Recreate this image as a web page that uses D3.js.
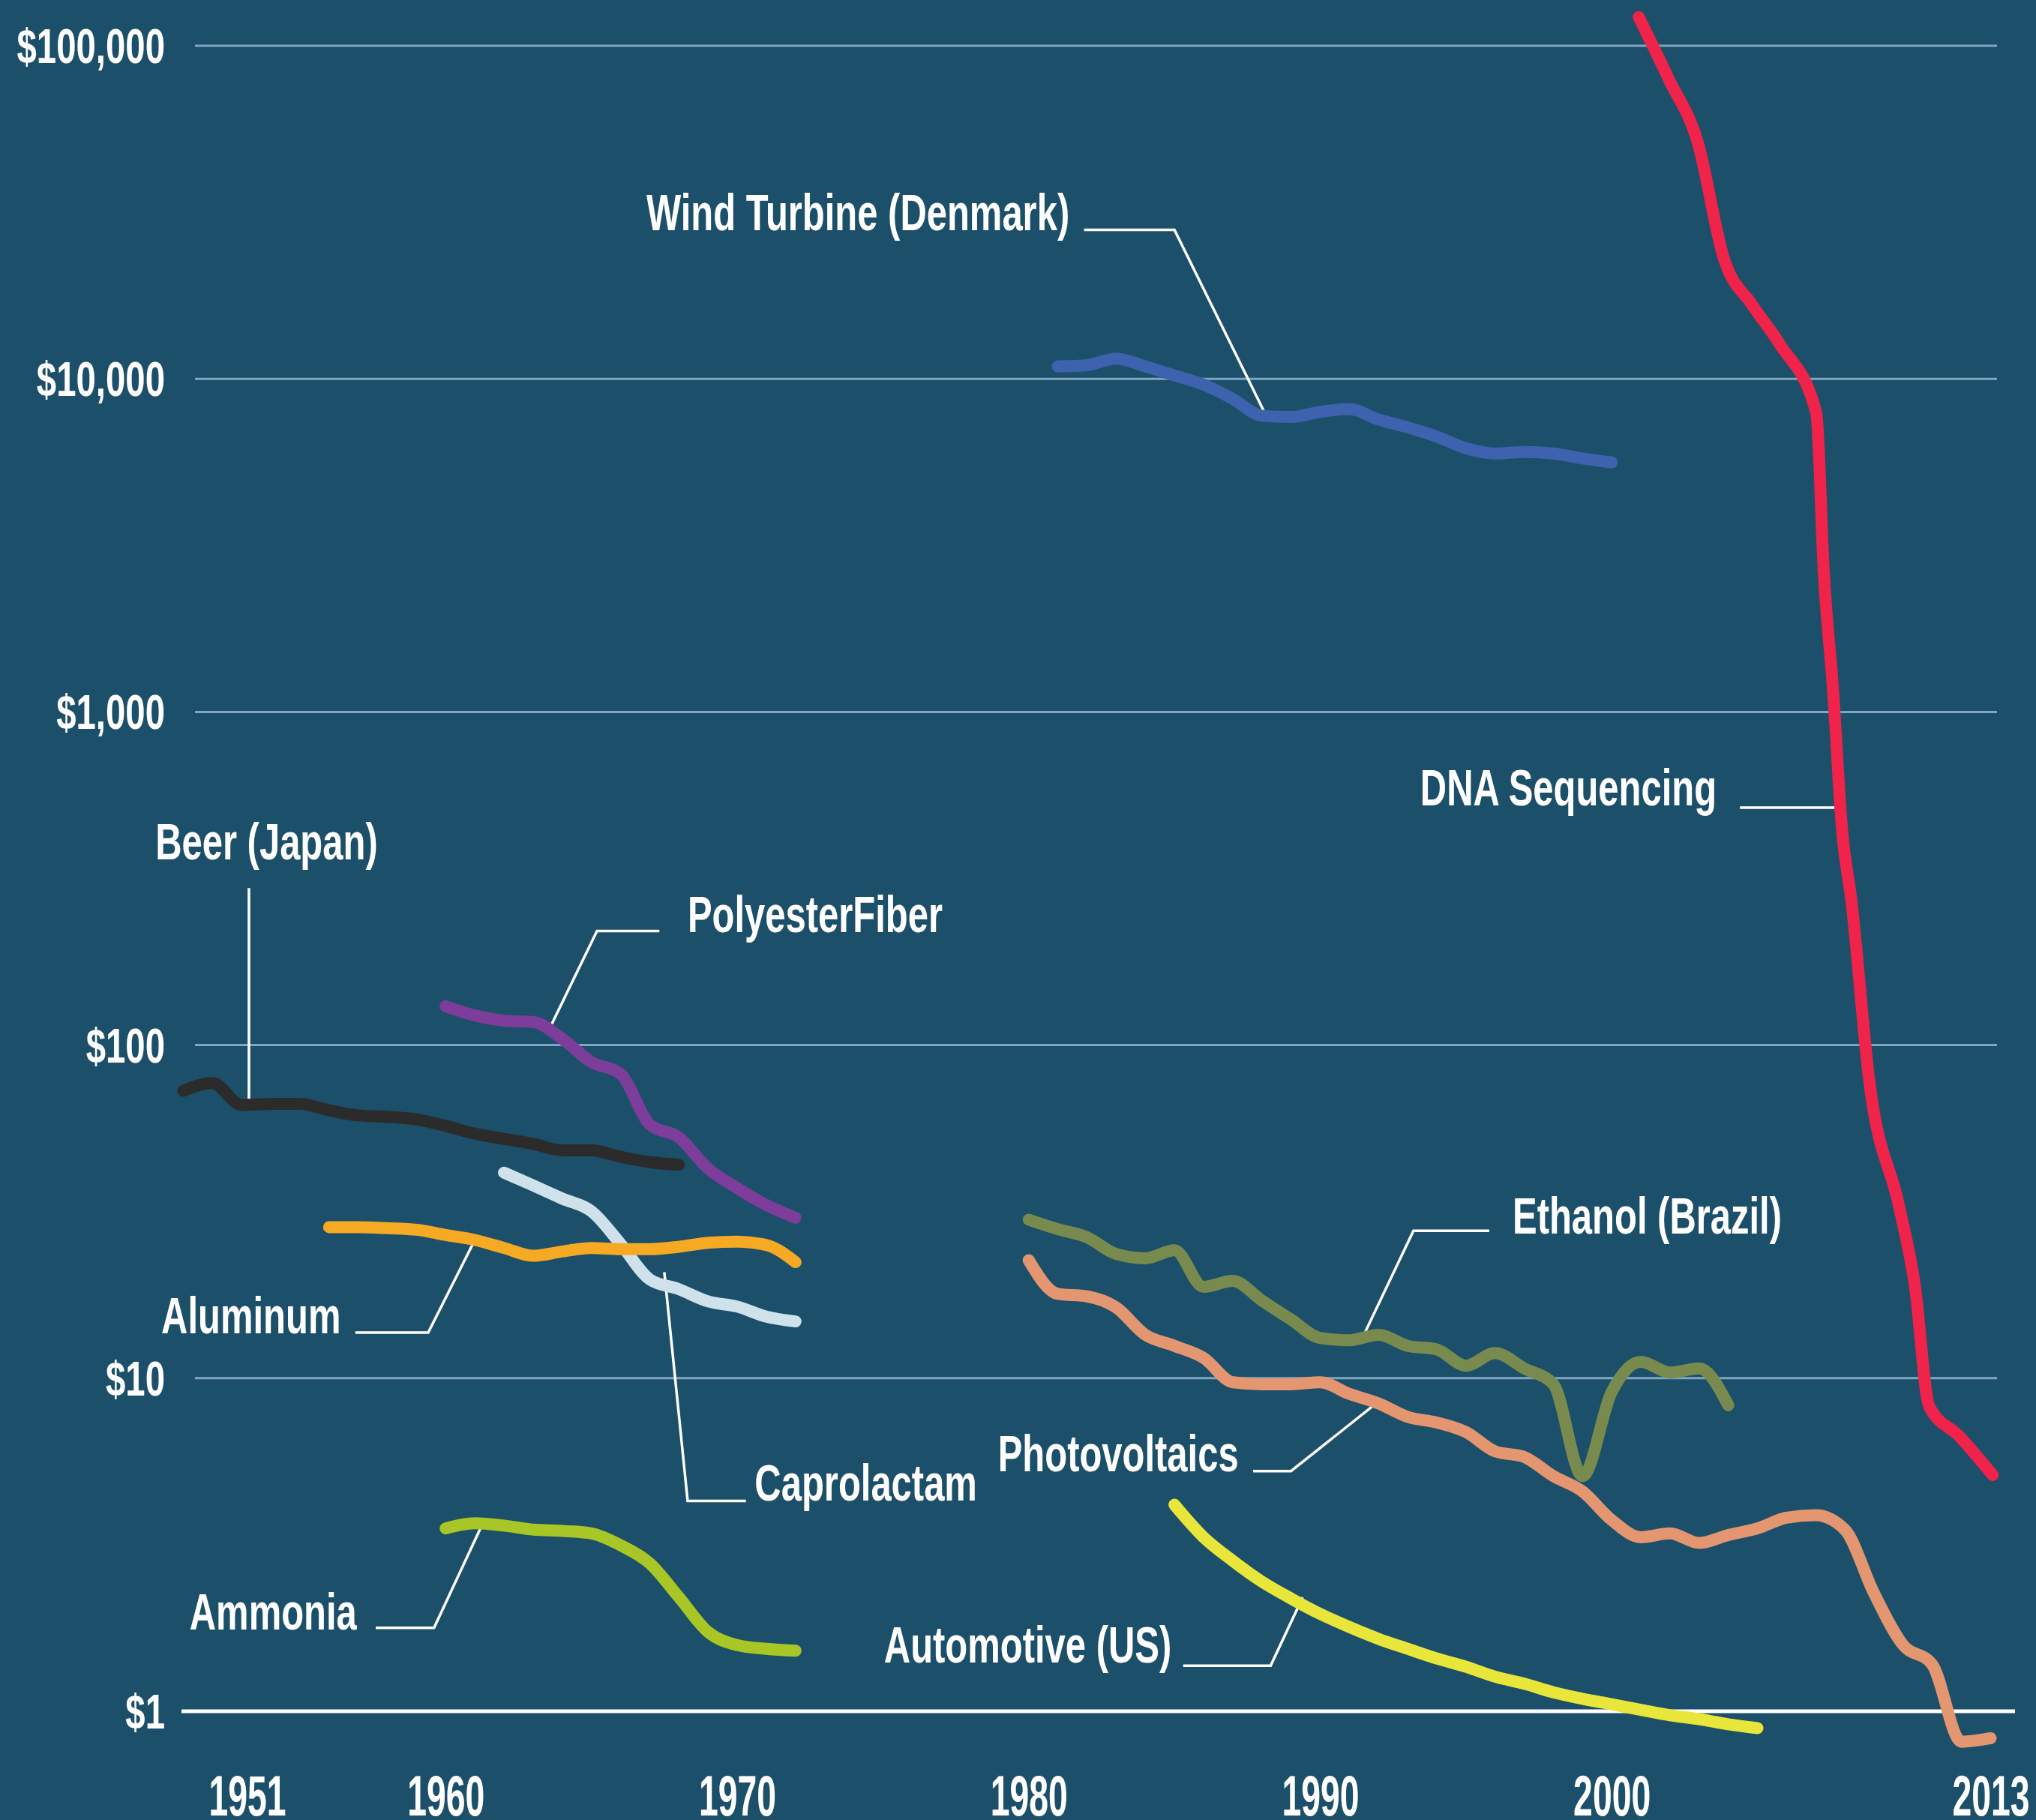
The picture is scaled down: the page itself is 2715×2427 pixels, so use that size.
<!DOCTYPE html>
<html>
<head>
<meta charset="utf-8">
<script src="https://cdn.jsdelivr.net/npm/d3@7"></script>
<style>
  html, body { margin: 0; padding: 0; background: #1c4f69; }
  svg { display: block; }
  text { font-family: "Liberation Sans", Arial, sans-serif; font-weight: bold; fill: #fff; }
</style>
</head>
<body>
<div id="chart"></div>
<script>
const W = 2715, H = 2427

// axes
const yTicks = [1, 10, 100, 1000, 10000, 100000]
const yTickLabels = ["$1", "$10", "$100", "$1,000", "$10,000", "$100,000"]
const xTicks = [1951, 1960, 1970, 1980, 1990, 2000, 2013]

// yearly series: first year + values (cost, $)
const beerStart = 1951
const beer = [72.9, 76.9, 66.1, 66.6, 66.6, 63.7, 61.5, 60.9, 59.8, 57.2, 54.2, 52.3, 50.5, 48.3, 48.3, 46.2, 44.5, 43.7]

const polyesterStart = 1960
const polyester = [130.7, 122.7, 118.4, 117.3, 104.4, 88.9, 81.9, 57.8, 52.8, 42.6, 37.2, 33.1, 30.3]

const caprolactamStart = 1962
const caprolactam = [41.4, 37.9, 34.6, 31.7, 25.3, 19.8, 18.5, 17.0, 16.4, 15.3, 14.8]

const aluminumStart = 1956
const aluminum = [28.4, 28.4, 28.2, 27.9, 26.9, 26.0, 24.6, 23.3, 24.0, 24.6, 24.4, 24.4, 24.8, 25.5, 25.7, 25.1, 22.3]

const ammoniaStart = 1960
const ammonia = [3.54, 3.67, 3.61, 3.51, 3.48, 3.42, 3.15, 2.78, 2.20, 1.73, 1.58, 1.54, 1.52]

const windStart = 1981
const wind = [10900, 10990, 11500, 10900, 10240, 9610, 8710, 7750, 7680, 7960, 8110, 7550, 7150, 6710, 6190, 5970, 6030, 5970, 5770, 5610]

const ethanolStart = 1980
const ethanol = [29.9, 28.0, 26.5, 23.6, 22.9, 24.2, 18.8, 19.6, 17.1, 15.0, 13.2, 13.0, 13.5, 12.5, 12.2, 10.9, 11.9, 10.7, 9.59, 5.08, 9.09, 11.2, 10.4, 10.7, 8.29]

const pvStart = 1980
const pv = [22.6, 17.9, 17.6, 16.3, 13.5, 12.5, 11.5, 9.72, 9.59, 9.59, 9.72, 8.97, 8.40, 7.65, 7.36, 6.89, 6.03, 5.80, 5.08, 4.57, 3.75, 3.33, 3.42, 3.20, 3.38, 3.54, 3.81, 3.88, 3.51, 2.26, 1.58, 1.38, 0.81, 0.83]

const autoStart = 1985
const auto = [4.17, 3.33, 2.83, 2.45, 2.18, 1.96, 1.79, 1.65, 1.54, 1.44, 1.36, 1.27, 1.21, 1.14, 1.09, 1.05, 1.01, 0.973, 0.947, 0.914, 0.890]

// DNA sequencing is sampled at uneven dates
const dnaYears = [2000.93, 2001.94, 2002.96, 2003.85, 2004.83, 2005.77, 2007.02, 2007.28, 2007.59, 2007.91, 2008.22, 2008.84, 2009.87, 2010.4, 2010.89, 2011.92, 2013.07]
const dnaCost = [121900, 80000, 51000, 22960, 16630, 12700, 7890, 2590, 1178, 435, 273, 77.6, 32.5, 19.0, 8.24, 6.70, 5.12]

const fromStart = (start, vals) => vals.map((v, i) => [start + i, v])

const series = [
  { name: "Beer (Japan)", color: "#2b2b2b", pts: fromStart(beerStart, beer) },
  { name: "PolyesterFiber", color: "#7d3d9a", pts: fromStart(polyesterStart, polyester) },
  { name: "Caprolactam", color: "#cfe2ec", pts: fromStart(caprolactamStart, caprolactam) },
  { name: "Aluminum", color: "#f6a922", pts: fromStart(aluminumStart, aluminum) },
  { name: "Ammonia", color: "#a8c626", pts: fromStart(ammoniaStart, ammonia) },
  { name: "Wind Turbine (Denmark)", color: "#3d63ae", pts: fromStart(windStart, wind) },
  { name: "Ethanol (Brazil)", color: "#798a4f", pts: fromStart(ethanolStart, ethanol) },
  { name: "Photovoltaics", color: "#e39670", pts: fromStart(pvStart, pv) },
  { name: "Automotive (US)", color: "#e8e63a", pts: fromStart(autoStart, auto) },
  { name: "DNA Sequencing", color: "#f0234a", pts: dnaYears.map((d, i) => [d, dnaCost[i]]) }
]

// label anchors and leader lines, in [year, cost]
const notes = [
  { text: "Wind Turbine (Denmark)", at: [1981.4, 28000], anchor: "end", leader: [[1981.9, 28000], [1985.0, 28000], [1988.1, 7900]] },
  { text: "DNA Sequencing", at: [2003.6, 525], anchor: "end", leader: [[2004.4, 516], [2007.65, 516]] },
  { text: "Beer (Japan)", at: [1950.04, 360], anchor: "start", leader: [[1953.25, 296], [1953.25, 68]] },
  { text: "PolyesterFiber", at: [1968.3, 218], anchor: "start", leader: [[1967.33, 220], [1965.19, 220], [1963.54, 111]] },
  { text: "Aluminum", at: [1956.4, 13.6], anchor: "end", leader: [[1956.9, 13.7], [1959.4, 13.7], [1961.0, 26]] },
  { text: "Caprolactam", at: [1970.6, 4.3], anchor: "start", leader: [[1970.3, 4.28], [1968.3, 4.28], [1967.5, 20.8]] },
  { text: "Ethanol (Brazil)", at: [1996.6, 27.2], anchor: "start", leader: [[1995.8, 27.7], [1993.2, 27.7], [1991.5, 13.5]] },
  { text: "Photovoltaics", at: [1987.2, 5.26], anchor: "end", leader: [[1987.7, 5.26], [1989.0, 5.26], [1991.8, 8.24]] },
  { text: "Ammonia", at: [1956.95, 1.76], anchor: "end", leader: [[1957.6, 1.78], [1959.6, 1.78], [1961.3, 3.71]] },
  { text: "Automotive (US)", at: [1984.9, 1.40], anchor: "end", leader: [[1985.3, 1.37], [1988.3, 1.37], [1989.4, 2.2]] }
]

const x = d3.scaleLinear().domain([1951, 2013]).range([244.5, 2654.5])
const y = d3.scaleLog().domain([1, 100000]).range([2282, 61])

const svg = d3.select("#chart").append("svg")
  .attr("width", W)
  .attr("height", H)

svg.append("rect").attr("width", W).attr("height", H).attr("fill", "#1c4f69")

// grid
svg.append("g")
  .selectAll("line")
  .data(yTicks.slice(1))
  .join("line")
    .attr("x1", 260).attr("x2", 2663)
    .attr("y1", d => y(d)).attr("y2", d => y(d))
    .attr("stroke", "#7fa6c2")
    .attr("stroke-width", 3)

svg.append("line")
  .attr("x1", 242).attr("x2", 2687)
  .attr("y1", y(1)).attr("y2", y(1))
  .attr("stroke", "#fff")
  .attr("stroke-width", 5)

// y axis
const yAxis = svg.append("g")
  .attr("transform", "translate(220,0)")
  .call(d3.axisLeft(y).tickValues(yTicks).tickFormat((d, i) => yTickLabels[i]).tickSize(0).tickPadding(0))
yAxis.select(".domain").remove()
yAxis.selectAll("text")
  .attr("x", 0)
  .attr("dy", "0.35em")
  .attr("font-size", 64)
  .attr("transform", "scale(0.74,1)")
  .attr("font-family", null)

// x axis
const xAxis = svg.append("g")
  .attr("transform", "translate(0,2367)")
  .call(d3.axisBottom(x).tickValues(xTicks).tickFormat(d3.format("d")).tickSize(0).tickPadding(0))
xAxis.select(".domain").remove()
xAxis.selectAll("text")
  .attr("y", 0)
  .attr("dy", "0.71em")
  .attr("font-size", 76)
  .attr("font-family", null)
  .attr("transform", d => (d === 1951 ? "translate(85,0) " : "") + "scale(0.61,1)")

// leaders
const leader = d3.line().x(d => x(d[0])).y(d => y(d[1]))
svg.append("g")
  .selectAll("path")
  .data(notes)
  .join("path")
    .attr("d", d => leader(d.leader))
    .attr("fill", "none")
    .attr("stroke", "#fff")
    .attr("stroke-width", 3.5)

// series
const line = d3.line()
  .curve(d3.curveMonotoneX)
  .x(d => x(d[0]))
  .y(d => y(d[1]))

svg.append("g")
  .selectAll("path")
  .data(series)
  .join("path")
    .attr("d", d => line(d.pts))
    .attr("fill", "none")
    .attr("stroke", d => d.color)
    .attr("stroke-width", 16)
    .attr("stroke-linecap", "round")
    .attr("stroke-linejoin", "round")

// labels
svg.append("g")
  .selectAll("text")
  .data(notes)
  .join("text")
    .attr("transform", d => "translate(" + x(d.at[0]) + "," + y(d.at[1]) + ") scale(0.72,1)")
    .attr("text-anchor", d => d.anchor)
    .attr("font-size", 68)
    .text(d => d.text)
</script>
</body>
</html>
